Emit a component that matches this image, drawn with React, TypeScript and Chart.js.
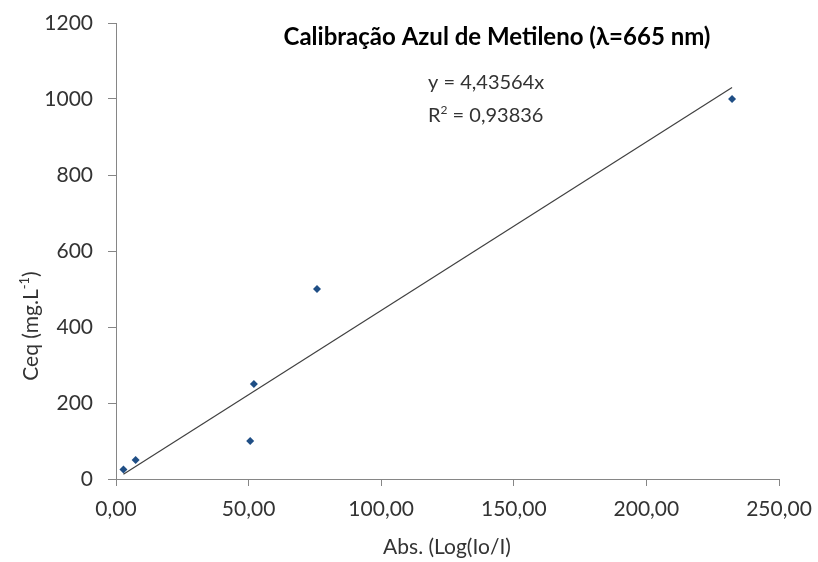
import React, { useEffect, useRef } from "react";
import { Chart, registerables } from "chart.js";

Chart.register(...registerables);

const absValues = [2.8, 7.4, 50.6, 52.0, 75.8, 232.3];
const ceqValues = [25, 50, 100, 250, 500, 1000];
const slope = 4.43564;
const eqText = "y = 4,43564x";
const r2Parts = ["R", "2", " = 0,93836"];
const titleText = "Calibração Azul de Metileno (λ=665 nm)";
const xTitle = "Abs. (Log(Io/I)";
const yTitleParts = ["Ceq (mg.L", "-1", ")"];

const FONT = "Lato, 'Open Sans', sans-serif";

export default function App() {
  const ref = useRef<HTMLCanvasElement>(null);
  useEffect(() => {
    document.body.style.margin = "0";
    const points = absValues.map((x, i) => ({ x, y: ceqValues[i] }));
    const xmin = Math.min(...absValues);
    const xmax = Math.max(...absValues);
    const trend = [
      { x: xmin, y: slope * xmin },
      { x: xmax, y: slope * xmax },
    ];
    const drawSup = (ctx: any, parts: string[], x: number, y: number, size: number, align: string) => {
      ctx.font = `${size}px ${FONT}`;
      const w0 = ctx.measureText(parts[0]).width;
      const w2 = ctx.measureText(parts[2]).width;
      ctx.font = `${Math.round(size * 0.62)}px ${FONT}`;
      const w1 = ctx.measureText(parts[1]).width;
      const total = w0 + w1 + w2;
      let sx = align === "center" ? x - total / 2 : x;
      ctx.textAlign = "left";
      ctx.textBaseline = "alphabetic";
      ctx.font = `${size}px ${FONT}`;
      ctx.fillText(parts[0], sx, y);
      ctx.font = `${Math.round(size * 0.62)}px ${FONT}`;
      ctx.fillText(parts[1], sx + w0, y - size * 0.42);
      ctx.font = `${size}px ${FONT}`;
      ctx.fillText(parts[2], sx + w0 + w1, y);
    };
    const textPlugin = {
      id: "texts",
      afterDraw(chart: any) {
        const ctx = chart.ctx;
        ctx.save();
        ctx.fillStyle = "#000";
        ctx.font = `bold 24px ${FONT}`;
        ctx.textAlign = "center";
        ctx.textBaseline = "middle";
        ctx.fillText(titleText, 497, 37);
        ctx.fillStyle = "#333";
        ctx.font = `20px ${FONT}`;
        ctx.textAlign = "left";
        ctx.fillText(eqText, 428, 83);
        drawSup(ctx, r2Parts, 428, 122, 20, "left");
        // x title
        ctx.font = `21px ${FONT}`;
        ctx.textAlign = "center";
        ctx.textBaseline = "middle";
        ctx.fillText(xTitle, 447, 547);
        // y title
        ctx.save();
        ctx.translate(30, 326);
        ctx.rotate(-Math.PI / 2);
        drawSup(ctx, yTitleParts, 0, 8, 21, "center");
        ctx.restore();
        ctx.restore();
      },
    };
    const chart = new Chart(ref.current!, {
      type: "scatter",
      data: {
        datasets: [
          {
            type: "line",
            data: trend,
            borderColor: "#404040",
            borderWidth: 1.2,
            pointRadius: 0,
            fill: false,
          } as any,
          {
            data: points,
            pointStyle: "rectRot",
            pointRadius: 4,
            backgroundColor: "#1F4E85",
            borderColor: "#1F4E85",
            borderWidth: 0,
          },
        ],
      },
      options: {
        animation: false,
        responsive: false,
        maintainAspectRatio: false,
        layout: { padding: { left: 0, right: 39, top: 23, bottom: 0 } },
        plugins: { legend: { display: false }, tooltip: { enabled: false } },
        scales: {
          x: {
            type: "linear",
            min: 0,
            max: 250,
            afterFit: (s: any) => {
              s.height = 83;
              s.paddingLeft = 0;
              s.paddingRight = 0;
            },
            ticks: {
              stepSize: 50,
              color: "#333",
              font: { family: FONT, size: 21 },
              padding: 11,
              callback: (v: any) => Number(v).toFixed(2).replace(".", ","),
            },
            grid: {
              display: true,
              drawOnChartArea: false,
              drawTicks: true,
              tickLength: 7,
              color: "#868686",
            },
            border: { display: true, color: "#868686", width: 1 },
          },
          y: {
            type: "linear",
            min: 0,
            max: 1200,
            afterFit: (s: any) => {
              s.width = 116;
              s.paddingTop = 0;
              s.paddingBottom = 0;
            },
            ticks: {
              stepSize: 200,
              color: "#333",
              font: { family: FONT, size: 21 },
              padding: 15,
              callback: (v: any) => String(v),
            },
            grid: {
              display: true,
              drawOnChartArea: false,
              drawTicks: true,
              tickLength: 8,
              color: "#868686",
            },
            border: { display: true, color: "#868686", width: 1 },
          },
        },
      },
      plugins: [textPlugin],
    });
    return () => chart.destroy();
  }, []);
  return (
    <div style={{ width: 818, height: 562 }}>
      <canvas ref={ref} width={818} height={562} style={{ width: 818, height: 562, display: "block" }} />
    </div>
  );
}
